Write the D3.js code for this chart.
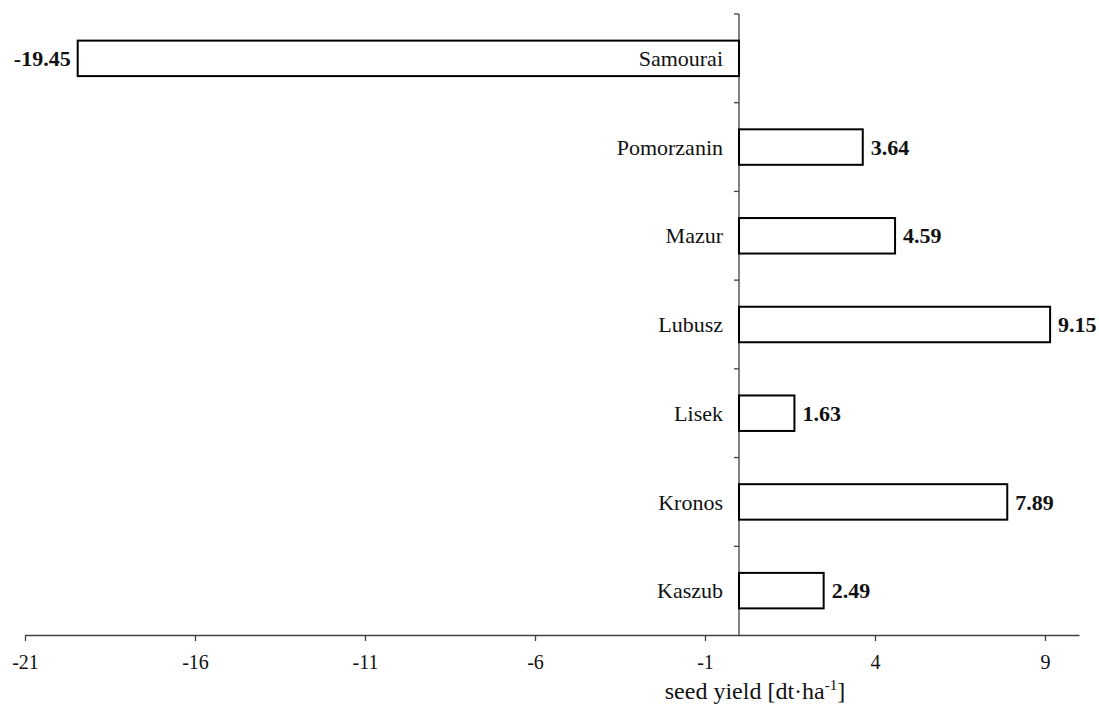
<!DOCTYPE html>
<html><head><meta charset="utf-8">
<script src="https://cdn.jsdelivr.net/npm/d3@7"></script>
<style>body{margin:0;background:#fff}svg{display:block}</style>
</head><body>
<svg id="c" width="1099" height="704"></svg>
<script>
const categories = ["Samourai","Pomorzanin","Mazur","Lubusz","Lisek","Kronos","Kaszub"];
const values = [-19.45, 3.64, 4.59, 9.15, 1.63, 7.89, 2.49];
const labels = ["-19.45","3.64","4.59","9.15","1.63","7.89","2.49"];
const xTicks = [-21,-16,-11,-6,-1,4,9];

const svg = d3.select("#c");
const font = "'Liberation Serif'";
const x = d3.scaleLinear().domain([-21,10]).range([25,1079]);
const y = d3.scaleBand().domain(categories).range([14,635]).paddingInner(0.6).paddingOuter(0.3);
const yb = d3.scaleBand().domain(categories).range([14,635]);

// x axis
const xa = svg.append("g").attr("transform","translate(0,635)")
  .call(d3.axisBottom(x).tickValues(xTicks).tickSize(6).tickSizeOuter(0).tickFormat(d=>String(d)));
xa.select(".domain").attr("stroke","#404040").attr("stroke-width",1.3);
xa.selectAll(".tick line").attr("stroke","#404040").attr("stroke-width",1.3);
xa.selectAll(".tick text").attr("font-family",font).attr("font-size",20).attr("fill","#111").attr("y",20).attr("dy","0.71em");

// y axis line at zero with ticks at band boundaries
const y0 = x(0);
svg.append("line").attr("x1",y0).attr("x2",y0).attr("y1",14).attr("y2",635).attr("stroke","#404040").attr("stroke-width",1.3);
const bounds = categories.map(c=>yb(c));
svg.selectAll(".yt").data(bounds).enter().append("line")
  .attr("x1",y0-5).attr("x2",y0).attr("y1",d=>d).attr("y2",d=>d)
  .attr("stroke","#404040").attr("stroke-width",1.3);

// bars
svg.selectAll(".bar").data(categories).enter().append("rect")
  .attr("x",(d,i)=>x(Math.min(0,values[i])))
  .attr("width",(d,i)=>Math.abs(x(values[i])-x(0)))
  .attr("y",d=>y(d)).attr("height",y.bandwidth())
  .attr("fill","#fff").attr("stroke","#000").attr("stroke-width",2);

// category labels
svg.selectAll(".cl").data(categories).enter().append("text")
  .attr("x",y0-16).attr("y",d=>y(d)+y.bandwidth()/2).attr("dy","0.35em")
  .attr("text-anchor","end").attr("font-family",font).attr("font-size",22).attr("fill","#111")
  .text(d=>d);

// value labels
svg.selectAll(".vl").data(categories).enter().append("text")
  .attr("x",(d,i)=>values[i]<0 ? x(values[i])-7 : x(values[i])+8)
  .attr("y",d=>y(d)+y.bandwidth()/2).attr("dy","0.35em")
  .attr("text-anchor",(d,i)=>values[i]<0?"end":"start")
  .attr("font-family",font).attr("font-size",22).attr("font-weight","bold").attr("fill","#111")
  .text((d,i)=>labels[i]);

// axis title
const t = svg.append("text").attr("x",755).attr("y",699).attr("text-anchor","middle")
  .attr("font-family",font).attr("font-size",24).attr("fill","#111");
t.append("tspan").text("seed yield [dt·ha");
t.append("tspan").attr("font-size",15).attr("dy",-9).text("-1");
t.append("tspan").attr("dy",9).text("]");
</script>
</body></html>
